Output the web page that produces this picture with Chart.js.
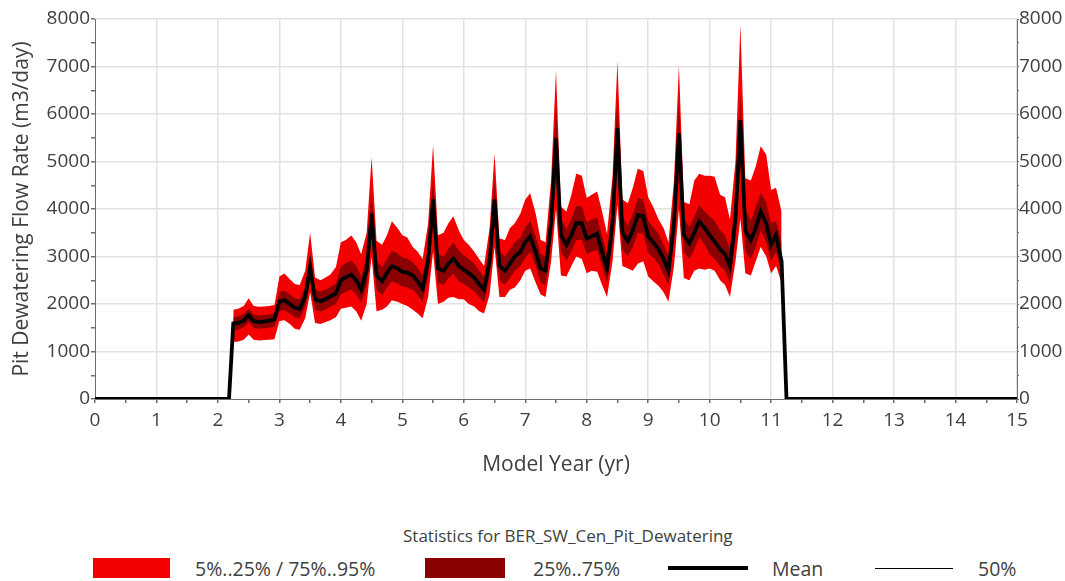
<!DOCTYPE html>
<html>
<head>
<meta charset="utf-8">
<script src="https://cdn.jsdelivr.net/npm/chart.js@4.4.1/dist/chart.umd.min.js"></script>
<style>
  html, body { margin:0; padding:0; background:#fff; }
  body { width:1065px; height:581px; overflow:hidden; position:relative; font-family:"Open Sans", sans-serif; color:#404040; }
  #wrap { position:absolute; left:0; top:0; width:1065px; height:490px; }
  .lg { position:absolute; font-size:19.5px; line-height:24px; white-space:nowrap; color:#404040; }
  .ttl { position:absolute; font-size:17px; line-height:22px; white-space:nowrap; color:#404040; }
  .box { position:absolute; }
</style>
</head>
<body>
<div id="wrap"><canvas id="c"></canvas></div>
<div class="ttl" style="left:403px;top:525px;">Statistics for BER_SW_Cen_Pit_Dewatering</div>
<div class="box" style="left:93px;top:558px;width:77px;height:20px;background:#f50000;"></div>
<div class="lg" style="left:195px;top:557px;">5%..25% / 75%..95%</div>
<div class="box" style="left:425px;top:558px;width:80px;height:20px;background:#8b0000;"></div>
<div class="lg" style="left:533px;top:557px;">25%..75%</div>
<div class="box" style="left:668px;top:566px;width:80px;height:4px;background:#000;"></div>
<div class="lg" style="left:772px;top:557px;">Mean</div>
<div class="box" style="left:875px;top:568px;width:78px;height:1px;background:#000;"></div>
<div class="lg" style="left:978px;top:557px;">50%</div>
<script>
// ---- data ----
const years = [
  2.25, 2.33, 2.42, 2.5, 2.58, 2.67, 2.75, 2.83, 2.92,
  3.0, 3.08, 3.17, 3.25, 3.33, 3.42, 3.5, 3.58, 3.67, 3.75, 3.83, 3.92,
  4.0, 4.08, 4.17, 4.25, 4.33, 4.42, 4.5, 4.58, 4.67, 4.75, 4.83, 4.92,
  5.0, 5.08, 5.17, 5.25, 5.33, 5.42, 5.5, 5.58, 5.67, 5.75, 5.83, 5.92,
  6.0, 6.08, 6.17, 6.25, 6.33, 6.42, 6.5, 6.58, 6.67, 6.75, 6.83, 6.92,
  7.0, 7.08, 7.17, 7.25, 7.33, 7.42, 7.5, 7.58, 7.67, 7.75, 7.83, 7.92,
  8.0, 8.08, 8.17, 8.25, 8.33, 8.42, 8.5, 8.58, 8.67, 8.75, 8.83, 8.92,
  9.0, 9.08, 9.17, 9.25, 9.33, 9.42, 9.5, 9.58, 9.67, 9.75, 9.83, 9.92,
  10.0, 10.08, 10.17, 10.25, 10.33, 10.42, 10.5, 10.58, 10.67, 10.75, 10.83, 10.92,
  11.0, 11.08, 11.17
];
const p95 = [
  1880, 1900, 1960, 2120, 1960, 1940, 1950, 1960, 1980,
  2580, 2640, 2520, 2420, 2400, 2700, 3500, 2560, 2500, 2560, 2620, 2780,
  3300, 3350, 3440, 3300, 3050, 3500, 5100, 3330, 3250, 3450, 3740, 3600,
  3450, 3400, 3200, 3100, 2950, 3700, 5350, 3450, 3500, 3700, 3850, 3550,
  3350, 3250, 3100, 2950, 2800, 3600, 5170, 3380, 3350, 3600, 3700, 3900,
  4200, 4330, 3900, 3350, 3300, 4600, 6920, 4050, 3950, 4300, 4750, 4700,
  4230, 4300, 4370, 3950, 3480, 4700, 7120, 4200, 4120, 4450, 4850, 4800,
  4250, 4050, 3780, 3600, 3300, 4600, 7020, 4150, 4100, 4600, 4740, 4700,
  4700, 4680, 4300, 4250, 3780, 5000, 7880, 4650, 4600, 4900, 5320, 5150,
  4400, 4450, 3950
];
const p75 = [
  1720, 1740, 1790, 1900, 1780, 1760, 1770, 1780, 1800,
  2250, 2280, 2200, 2120, 2100, 2350, 3050, 2300, 2260, 2300, 2360, 2430,
  2800, 2860, 2920, 2800, 2580, 3000, 4350, 2900, 2780, 2950, 3120, 3070,
  2980, 2960, 2880, 2760, 2600, 3200, 4650, 3050, 3000, 3170, 3300, 3120,
  3020, 2950, 2850, 2700, 2570, 3200, 4600, 3100, 3000, 3150, 3300, 3400,
  3620, 3750, 3420, 3050, 3000, 4050, 6200, 3800, 3570, 3800, 4070, 4050,
  3720, 3780, 3820, 3430, 3050, 4100, 6400, 3850, 3650, 3900, 4230, 4200,
  3750, 3620, 3470, 3250, 3000, 4100, 6300, 3800, 3620, 3850, 4080, 3950,
  3850, 3750, 3550, 3450, 3150, 4250, 6400, 4000, 3750, 4050, 4350, 4150,
  3700, 3750, 3300
];
const p25 = [
  1450, 1460, 1510, 1620, 1500, 1480, 1490, 1500, 1520,
  1850, 1880, 1800, 1720, 1700, 1950, 2500, 1880, 1840, 1880, 1940, 2000,
  2200, 2260, 2310, 2200, 2020, 2400, 3450, 2300, 2180, 2350, 2480, 2430,
  2370, 2350, 2300, 2180, 2040, 2600, 3700, 2450, 2400, 2550, 2630, 2480,
  2420, 2350, 2270, 2150, 2030, 2600, 3750, 2500, 2400, 2550, 2700, 2800,
  2980, 3100, 2800, 2450, 2400, 3350, 4700, 3100, 2920, 3100, 3350, 3350,
  3050, 3100, 3130, 2800, 2450, 3300, 4900, 3150, 3000, 3200, 3500, 3480,
  3080, 2980, 2830, 2620, 2400, 3300, 4800, 3100, 2950, 3150, 3400, 3250,
  3050, 2950, 2800, 2700, 2450, 3350, 4950, 3100, 2950, 3200, 3550, 3300,
  2900, 3100, 2650
];
const p5 = [
  1200, 1210, 1250, 1360, 1250, 1230, 1240, 1250, 1260,
  1640, 1660, 1580, 1480, 1460, 1700, 2250, 1600, 1580, 1620, 1660, 1720,
  1900, 1920, 1950, 1850, 1650, 2000, 3000, 1850, 1880, 1950, 2080, 2050,
  2000, 1960, 1880, 1800, 1700, 2150, 3100, 2000, 2050, 2130, 2150, 2100,
  2100, 2000, 1950, 1850, 1800, 2200, 3200, 2150, 2150, 2300, 2350, 2500,
  2700, 2750, 2450, 2200, 2150, 2900, 4000, 2600, 2580, 2800, 3000, 2950,
  2650, 2700, 2680, 2400, 2150, 2900, 4100, 2800, 2750, 2700, 2850, 2900,
  2580, 2480, 2380, 2250, 2050, 2800, 4000, 2550, 2500, 2700, 2750, 2720,
  2750, 2700, 2500, 2400, 2150, 2900, 3800, 2650, 2600, 2900, 3200, 3000,
  2650, 2800, 2450
];
const meanVals = [
  1590, 1600, 1650, 1760, 1640, 1620, 1630, 1650, 1670,
  2050, 2080, 2000, 1920, 1900, 2150, 2780, 2100, 2060, 2100, 2160, 2220,
  2500, 2560, 2620, 2500, 2300, 2700, 3900, 2600, 2480, 2650, 2800, 2750,
  2680, 2660, 2600, 2480, 2320, 2900, 4200, 2750, 2700, 2850, 2960, 2800,
  2720, 2650, 2560, 2420, 2300, 2900, 4200, 2800, 2700, 2850, 3000, 3100,
  3300, 3420, 3100, 2750, 2700, 3700, 5490, 3450, 3250, 3450, 3700, 3700,
  3380, 3420, 3480, 3100, 2760, 3700, 5700, 3500, 3320, 3550, 3870, 3850,
  3420, 3300, 3150, 2950, 2700, 3700, 5600, 3450, 3280, 3500, 3740, 3600,
  3450, 3320, 3150, 3050, 2800, 3800, 5870, 3550, 3350, 3600, 3950, 3700,
  3250, 3450, 2900
];
const medianVals = [
  1570, 1590, 1640, 1740, 1630, 1610, 1620, 1640, 1660,
  2030, 2060, 1980, 1900, 1890, 2120, 2700, 2080, 2040, 2080, 2140, 2200,
  2480, 2540, 2600, 2480, 2280, 2660, 3780, 2580, 2460, 2630, 2780, 2730,
  2650, 2640, 2580, 2460, 2300, 2860, 4100, 2720, 2680, 2830, 2940, 2780,
  2700, 2630, 2540, 2400, 2280, 2860, 4100, 2780, 2680, 2830, 2980, 3080,
  3270, 3390, 3070, 2720, 2680, 3650, 5400, 3420, 3220, 3420, 3680, 3670,
  3350, 3390, 3450, 3070, 2740, 3650, 5600, 3470, 3290, 3520, 3840, 3820,
  3390, 3270, 3120, 2920, 2680, 3650, 5500, 3420, 3250, 3470, 3710, 3570,
  3420, 3290, 3120, 3020, 2780, 3750, 5750, 3520, 3320, 3570, 3920, 3670,
  3220, 3420, 2870
];
// zero-flow periods before and after dewatering
const zeroBefore = [0, 2.18];
const zeroAfter = [11.25, 15];
const xTicks = { min: 0, max: 15 };
const yTicks = { min: 0, max: 8000 };

// ---- build datasets ----
const pts = (vals) => years.map((x, i) => ({ x: x, y: vals[i] }));
const withZeros = (vals) => [
  ...zeroBefore.map(x => ({ x: x, y: 0 })),
  ...pts(vals),
  ...zeroAfter.map(x => ({ x: x, y: 0 }))
];

const FONT = '"Open Sans", sans-serif';
const TXT = '#404040';
const GRID = '#e2e2e2';
const AXIS = '#6e6e6e';

const ctx = document.getElementById('c').getContext('2d');
new Chart(ctx, {
  type: 'line',
  data: {
    datasets: [
      { label: '50%', data: withZeros(medianVals), borderColor: '#000', borderWidth: 1, pointRadius: 0, fill: false, order: 0 },
      { label: 'Mean', data: withZeros(meanVals), borderColor: '#000', borderWidth: 3.8, pointRadius: 0, fill: false, order: 1 },
      { label: '25%..75%', data: pts(p75), borderColor: 'rgba(0,0,0,0)', borderWidth: 0, backgroundColor: '#8b0000', pointRadius: 0, fill: { target: 3 }, order: 2 },
      { label: '25%', data: pts(p25), borderColor: 'rgba(0,0,0,0)', borderWidth: 0, pointRadius: 0, fill: false, order: 3 },
      { label: '5%..95%', data: pts(p95), borderColor: 'rgba(0,0,0,0)', borderWidth: 0, backgroundColor: '#f50000', pointRadius: 0, fill: { target: 5 }, order: 4 },
      { label: '5%', data: pts(p5), borderColor: 'rgba(0,0,0,0)', borderWidth: 0, pointRadius: 0, fill: false, order: 5 }
    ]
  },
  options: {
    responsive: true,
    maintainAspectRatio: false,
    animation: false,
    layout: { padding: { top: 19, left: 0, right: 0, bottom: 0 } },
    plugins: { legend: { display: false }, tooltip: { enabled: false } },
    elements: { line: { tension: 0 } },
    scales: {
      x: {
        type: 'linear', min: xTicks.min, max: xTicks.max,
        ticks: {
          stepSize: 0.5, autoSkip: false, maxRotation: 0, padding: 6,
          color: TXT, font: { family: FONT, size: 19 },
          callback: v => Number.isInteger(v) ? String(v) : ''
        },
        grid: {
          color: c => (c.tick && Number.isInteger(c.tick.value) && c.tick.value !== 0) ? GRID : 'rgba(0,0,0,0)',
          tickColor: AXIS, tickLength: 4, lineWidth: 1.5
        },
        border: { color: AXIS, width: 1 },
        title: { display: true, text: 'Model Year (yr)', color: TXT, font: { family: FONT, size: 21 }, padding: { top: 0, bottom: 12 } },
        afterFit: s => { s.height = 91; }
      },
      y: {
        position: 'left', min: yTicks.min, max: yTicks.max,
        ticks: {
          stepSize: 500, autoSkip: false, padding: 1,
          color: TXT, font: { family: FONT, size: 19 },
          callback: v => (v % 1000 === 0) ? String(v) : ''
        },
        grid: {
          color: c => (c.tick && c.tick.value % 1000 === 0 && c.tick.value !== 0) ? GRID : 'rgba(0,0,0,0)',
          tickColor: AXIS, tickLength: 4, lineWidth: 1.5
        },
        border: { color: AXIS, width: 1 },
        title: { display: true, text: 'Pit Dewatering Flow Rate (m3/day)', color: TXT, font: { family: FONT, size: 21 }, padding: { top: 9, bottom: 0 } },
        afterFit: s => { s.width = 95; }
      },
      y2: {
        position: 'right', min: yTicks.min, max: yTicks.max,
        ticks: {
          stepSize: 500, autoSkip: false, padding: 0,
          color: TXT, font: { family: FONT, size: 19 },
          callback: v => (v % 1000 === 0) ? String(v) : ''
        },
        grid: { drawOnChartArea: false, tickColor: AXIS, tickLength: 2 },
        border: { color: AXIS, width: 1 },
        afterFit: s => { s.width = 48; }
      }
    }
  }
});
</script>
</body>
</html>
